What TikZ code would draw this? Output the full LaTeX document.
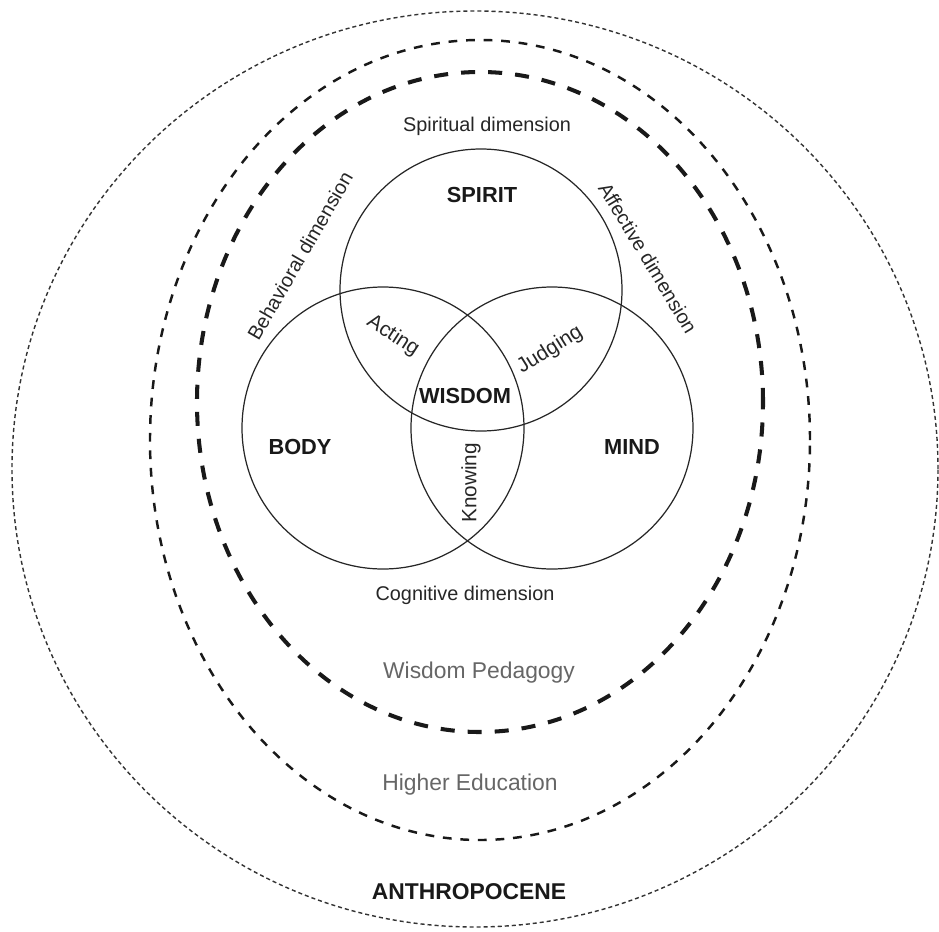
\documentclass[tikz,border=0pt]{standalone}
\usepackage{fontspec}
\setmainfont{Liberation Sans}
\usepackage{tikz}
\usetikzlibrary{calc}

\begin{document}
\begin{tikzpicture}[x=0.2mm, y=-0.2mm,
  venn/.style={circle, draw=black!85, line width=0.7pt, minimum size=56.4mm, inner sep=0pt},
  core/.style={font=\fontsize{12.4}{14}\selectfont\bfseries, text=black!90},
  dimlab/.style={font=\fontsize{11.3}{13}\selectfont, text=black!85},
  overlap/.style={font=\fontsize{11.8}{14}\selectfont, text=black!85},
  layer/.style={font=\fontsize{13}{15}\selectfont, text=black!60},
  dotring/.style={line width=0.8pt, black!80, dash pattern=on 2.3pt off 1.7pt},
  midring/.style={line width=1.4pt, black!90, dash pattern=on 5pt off 5pt},
  thickring/.style={line width=2.3pt, black!90, dash pattern=on 8pt off 7.4pt}]
  \useasboundingbox (0,0) rectangle (939,932);
  % --- nested contexts ---
  \draw[dotring] (475,469) ellipse [x radius=92.6mm, y radius=91.6mm];
  \draw[midring] (480,440) ellipse [x radius=66mm, y radius=80mm];
  \draw[thickring] (480,402) ellipse [x radius=56.6mm, y radius=66mm];
  % --- three circles ---
  \node[venn] (spiritc) at (481,290) {};
  \node[venn] (bodyc) at (383,428) {};
  \node[venn] (mindc) at (552,428) {};
  \node[core] (spirit) at (482,195) {SPIRIT};
  \node[core] (body) at (300,447) {BODY};
  \node[core] (mind) at (632,447) {MIND};
  \node[core] (wisdom) at (465,396) {WISDOM};
  % --- overlaps ---
  \node[overlap, rotate=-33] (acting) at (393,336) {Acting};
  \node[overlap, rotate=32] (judging) at (550,350) {Judging};
  \node[overlap, rotate=90] (knowing) at (471,483) {Knowing};
  % --- dimensions ---
  \node[dimlab] (spiritual) at (487,126) {Spiritual dimension};
  \node[dimlab, rotate=60] (behavioral) at (300,256) {Behavioral dimension};
  \node[dimlab, rotate=-59] (affective) at (648,258) {Affective dimension};
  \node[dimlab] (cognitive) at (465,595) {Cognitive dimension};
  % --- layers ---
  \node[layer] (pedagogy) at (479,673) {Wisdom Pedagogy};
  \node[layer] (higher) at (470,785) {Higher Education};
  \node[font=\fontsize{13}{15}\selectfont\bfseries, text=black!90] (anthro) at (469,892) {ANTHROPOCENE};
\end{tikzpicture}
\end{document}
